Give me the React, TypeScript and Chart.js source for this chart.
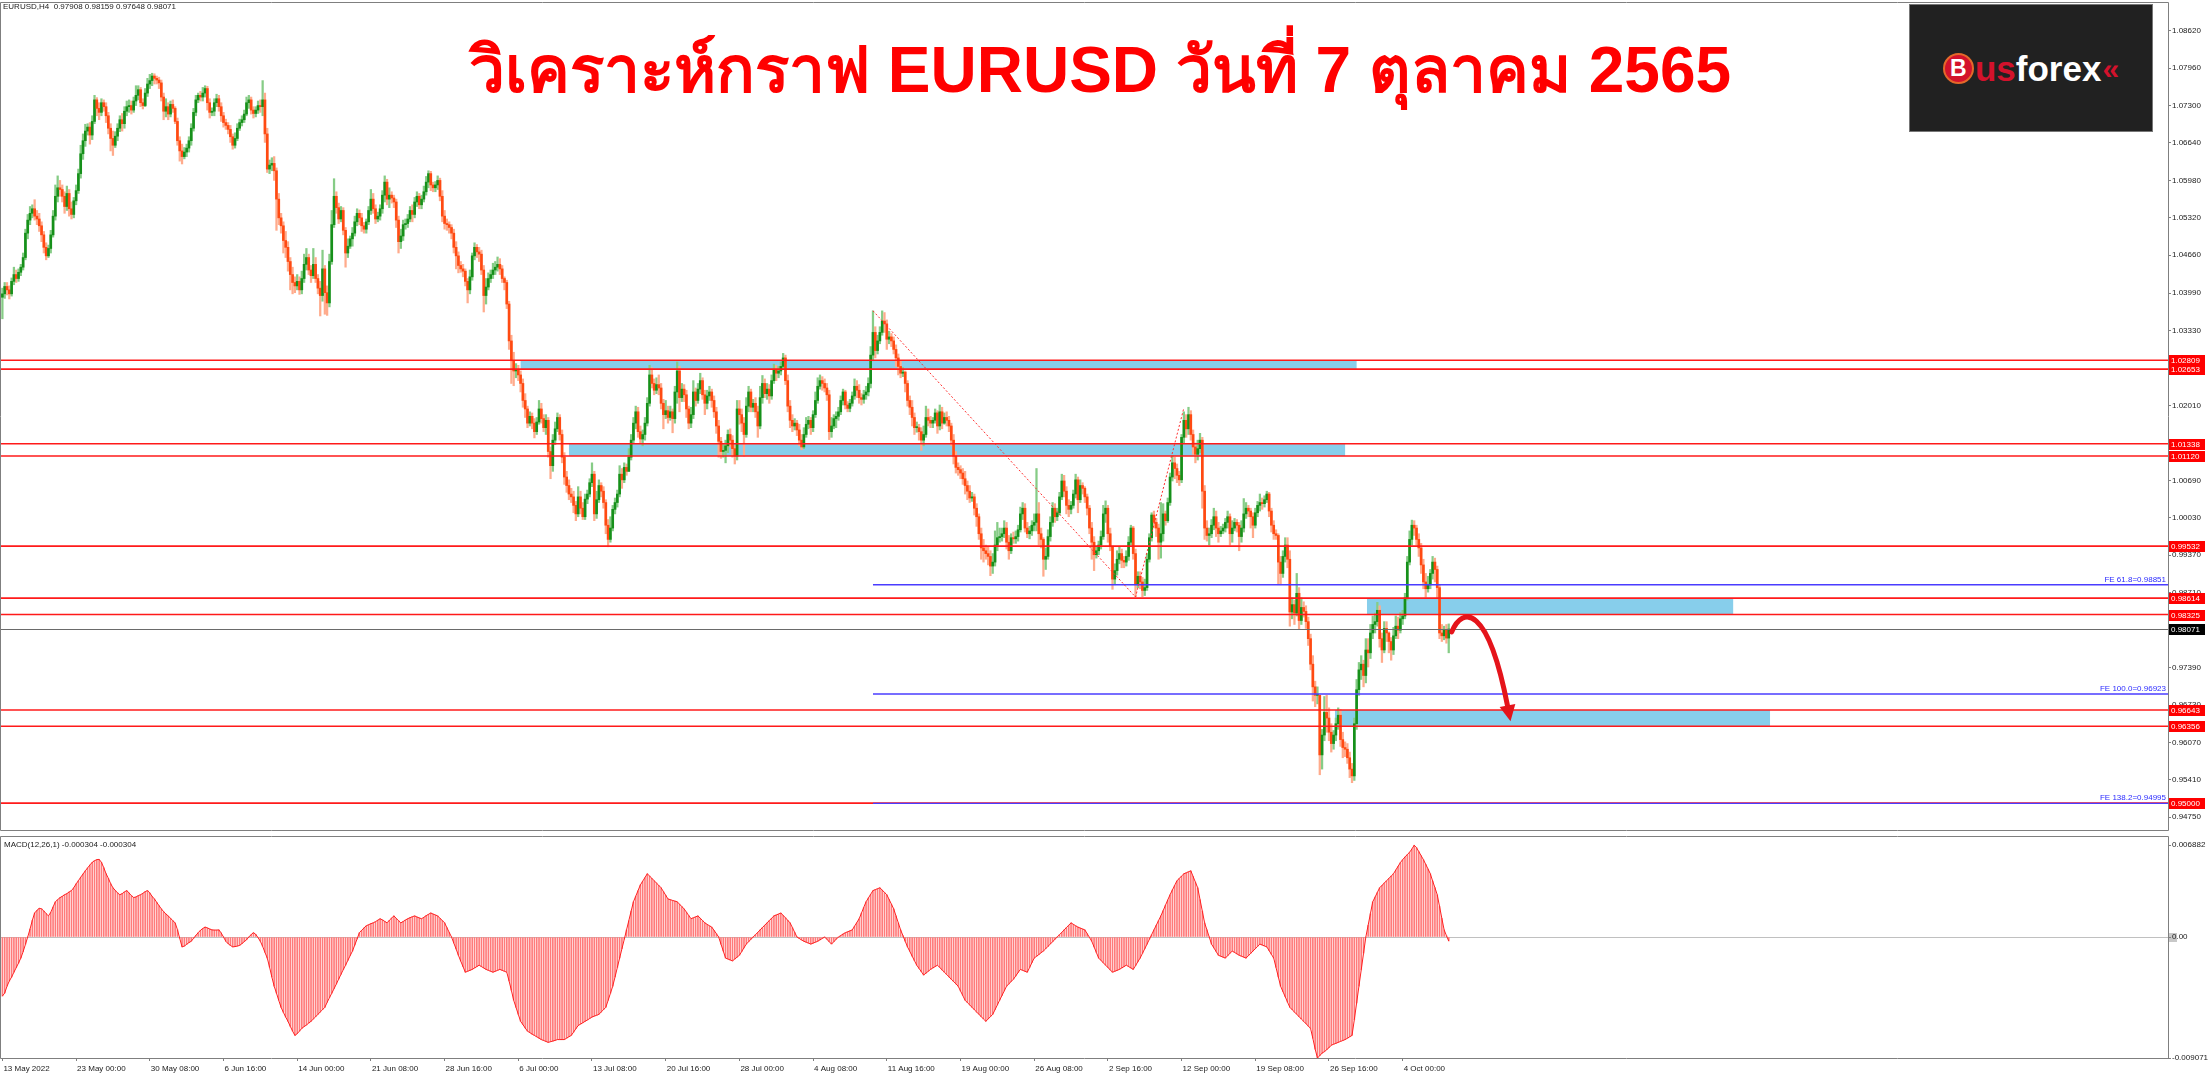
import React, { useEffect, useRef } from "react";
import { Chart, registerables } from "chart.js";

Chart.register(...registerables);

// ---------------- texts ----------------
const SYMBOL_HEADER = "EURUSD,H4  0.97908 0.98159 0.97648 0.98071";
const MACD_HEADER = "MACD(12,26,1) -0.000304 -0.000304";
const TITLE = "วิเคราะห์กราฟ EURUSD วันที่ 7 ตุลาคม 2565";

// ---------------- price data (H4 bars, units of 0.0001) ----------------
const PRICE_UNIT = 1e-4;
const FIRST_OPEN = 10392;
const CLOSES = [
  10398, 10411,
  10405, 10398, 10420, 10432, 10425, 10436,
  10445, 10462, 10505, 10528, 10540, 10548,
  10535, 10530, 10518, 10502, 10480, 10465,
  10478, 10502, 10535, 10570, 10585, 10582,
  10570, 10552, 10575, 10548, 10538, 10562,
  10580, 10610, 10645, 10668, 10685, 10692,
  10678, 10702, 10740, 10725, 10718, 10735,
  10728, 10712, 10690, 10672, 10660, 10676,
  10690, 10705, 10698, 10720, 10728, 10730,
  10722, 10738, 10748, 10758, 10735, 10730,
  10752, 10768, 10774, 10782, 10778, 10775,
  10770, 10745, 10720, 10728, 10715, 10732,
  10725, 10702, 10668, 10650, 10640, 10648,
  10655, 10668, 10690, 10718, 10740, 10748,
  10745, 10752, 10760, 10735, 10718, 10720,
  10735, 10742, 10728, 10712, 10700, 10695,
  10688, 10675, 10660, 10672, 10690, 10700,
  10705, 10715, 10735, 10740, 10722, 10716,
  10722, 10730, 10728, 10740, 10680, 10618,
  10625, 10628, 10615, 10565, 10532, 10518,
  10492, 10480, 10455, 10432, 10418, 10412,
  10420, 10405, 10425, 10450, 10462, 10440,
  10430, 10450, 10425, 10408, 10395, 10442,
  10400, 10382, 10455, 10520, 10570, 10550,
  10530, 10545, 10510, 10470, 10482, 10495,
  10505, 10525, 10540, 10532, 10518, 10512,
  10525, 10545, 10565, 10548, 10530, 10535,
  10548, 10572, 10595, 10565, 10572, 10567,
  10560, 10528, 10490, 10500, 10520, 10522,
  10530, 10545, 10538, 10560, 10570, 10555,
  10565, 10578, 10595, 10610, 10590, 10585,
  10590, 10598, 10570, 10535, 10522, 10520,
  10515, 10505, 10480, 10465, 10448, 10442,
  10438, 10420, 10405, 10428, 10465, 10480,
  10472, 10468, 10440, 10395, 10410, 10425,
  10432, 10440, 10445, 10450, 10442, 10425,
  10418, 10380, 10315, 10280, 10262, 10265,
  10255, 10240, 10210, 10195, 10170, 10182,
  10170, 10155, 10172, 10195, 10178, 10162,
  10175, 10120, 10095, 10140, 10160, 10180,
  10150, 10110, 10075, 10060, 10045, 10040,
  10025, 10010, 10040, 10020, 10005, 10036,
  10045, 10065, 10080, 10010, 10035, 10060,
  10050, 10030, 9990, 9965, 9985, 10018,
  10030, 10045, 10080, 10070, 10092, 10085,
  10110, 10140, 10170, 10190, 10155, 10142,
  10150, 10170, 10205, 10255, 10240, 10228,
  10238, 10232, 10205, 10185, 10192, 10180,
  10190, 10178, 10225, 10262, 10215, 10230,
  10220, 10195, 10170, 10185, 10225, 10210,
  10230, 10245, 10220, 10205, 10218, 10225,
  10210, 10190, 10165, 10138, 10120, 10122,
  10130, 10150, 10140, 10125, 10112, 10195,
  10185, 10170, 10150, 10200, 10225, 10198,
  10205, 10190, 10165, 10215, 10240, 10222,
  10230, 10218, 10245, 10265, 10258, 10262,
  10270, 10285, 10245, 10200, 10175, 10165,
  10170, 10158, 10140, 10128, 10150, 10168,
  10175, 10162, 10185, 10210, 10235, 10245,
  10240, 10232, 10220, 10155, 10165, 10178,
  10182, 10190, 10210, 10225, 10202, 10196,
  10205, 10218, 10235, 10228, 10215, 10212,
  10220, 10225, 10240, 10290, 10330, 10298,
  10315, 10330, 10350, 10345, 10318, 10322,
  10315, 10300, 10285, 10270, 10258, 10260,
  10240, 10210, 10198, 10180, 10162, 10162,
  10155, 10140, 10150, 10180, 10175, 10170,
  10175, 10188, 10165, 10190, 10170, 10180,
  10175, 10165, 10140, 10112, 10092, 10088,
  10082, 10072, 10060, 10050, 10038, 10040,
  10020, 10005, 9975, 9950, 9945, 9940,
  9935, 9918, 9925, 9955, 9968, 9970,
  9975, 9985, 9960, 9945, 9968, 9966,
  9970, 9982, 10010, 10020, 9985, 9975,
  9980, 9990, 9995, 10010, 9975, 9965,
  9930, 9935, 9970, 9995, 10020, 10005,
  10012, 10040, 10068, 10050, 10025, 10018,
  10025, 10045, 10070, 10035, 10060, 10055,
  10040, 10020, 9985, 9960, 9938, 9945,
  9955, 9970, 10010, 10020, 9975, 9953,
  9895, 9910, 9930, 9940, 9928, 9925,
  9935, 9960, 9985, 9940, 9885, 9900,
  9890, 9875, 9880, 9930, 9968, 10008,
  9995, 9985, 9960, 9975, 10010, 9998,
  10030, 10075, 10100, 10090, 10078, 10070,
  10145, 10175, 10160, 10185, 10150, 10128,
  10115, 10125, 10140, 10050, 9985, 9972,
  9975, 9990, 10005, 9985, 9975, 9980,
  9985, 9995, 10005, 9975, 9985, 9995,
  9990, 9970, 9985, 10010, 10020, 10015,
  10005, 9990, 10012, 10025, 10030, 10028,
  10035, 10045, 10015, 9990, 9975, 9972,
  9925, 9905, 9935, 9955, 9930, 9837,
  9850, 9835, 9870, 9822, 9845, 9838,
  9820, 9790, 9745, 9705, 9690, 9690,
  9585, 9620, 9660, 9650, 9625, 9605,
  9620, 9640, 9655, 9612, 9598, 9595,
  9580, 9560, 9548, 9640, 9700, 9735,
  9745, 9725, 9770, 9765, 9800, 9815,
  9820, 9840, 9790, 9770, 9808, 9800,
  9785, 9770, 9795, 9812, 9805, 9825,
  9830, 9862, 9925, 9965, 9990, 9985,
  9965, 9950, 9920, 9890, 9878, 9885,
  9905, 9925, 9912, 9880, 9800, 9795,
  9805, 9791, 9807,
];
const HIGHS = [
  10408, 10418,
  10418, 10412, 10426, 10445, 10440, 10442,
  10450, 10470, 10512, 10538, 10552, 10555,
  10564, 10545, 10540, 10525, 10508, 10488,
  10484, 10510, 10545, 10590, 10606, 10598,
  10590, 10578, 10588, 10582, 10560, 10568,
  10590, 10618, 10660, 10680, 10697, 10698,
  10700, 10712, 10748, 10744, 10735, 10742,
  10740, 10735, 10718, 10698, 10685, 10684,
  10698, 10712, 10716, 10728, 10738, 10740,
  10738, 10745, 10765, 10765, 10762, 10742,
  10760, 10778, 10785, 10787, 10786, 10782,
  10780, 10775, 10752, 10742, 10735, 10738,
  10740, 10728, 10708, 10675, 10662, 10656,
  10662, 10675, 10698, 10725, 10748, 10752,
  10755, 10762, 10765, 10764, 10742, 10726,
  10742, 10750, 10748, 10735, 10718, 10706,
  10700, 10695, 10680, 10682, 10698, 10706,
  10712, 10722, 10745, 10748, 10745, 10728,
  10728, 10738, 10740, 10774, 10752, 10690,
  10634, 10638, 10640, 10620, 10575, 10540,
  10525, 10508, 10490, 10462, 10445, 10428,
  10432, 10428, 10438, 10468, 10478, 10468,
  10448, 10478, 10462, 10432, 10420, 10475,
  10448, 10412, 10468, 10545, 10601, 10578,
  10558, 10552, 10550, 10515, 10495, 10500,
  10515, 10535, 10548, 10546, 10540, 10524,
  10530, 10552, 10582, 10575, 10555, 10542,
  10555, 10580, 10606, 10600, 10585, 10578,
  10572, 10565, 10535, 10512, 10528, 10530,
  10538, 10552, 10555, 10568, 10578, 10575,
  10572, 10588, 10605, 10615, 10614, 10595,
  10596, 10606, 10602, 10580, 10545, 10530,
  10525, 10520, 10512, 10490, 10472, 10455,
  10450, 10442, 10425, 10440, 10470, 10488,
  10485, 10480, 10475, 10448, 10425, 10435,
  10440, 10452, 10455, 10463, 10460, 10448,
  10428, 10422, 10385, 10325, 10295, 10275,
  10272, 10262, 10248, 10222, 10200, 10190,
  10188, 10178, 10180, 10210, 10205, 10185,
  10185, 10180, 10128, 10150, 10172, 10188,
  10185, 10158, 10118, 10085, 10070, 10055,
  10050, 10032, 10058, 10050, 10030, 10045,
  10052, 10072, 10100, 10085, 10050, 10070,
  10065, 10058, 10035, 10000, 10005, 10025,
  10038, 10052, 10095, 10090, 10100, 10098,
  10125, 10150, 10180, 10200, 10198, 10165,
  10158, 10180, 10215, 10272, 10268, 10248,
  10250, 10255, 10240, 10212, 10210, 10200,
  10200, 10195, 10235, 10278, 10270, 10240,
  10238, 10228, 10200, 10198, 10245, 10232,
  10240, 10258, 10250, 10228, 10228, 10235,
  10230, 10218, 10198, 10175, 10145, 10132,
  10140, 10158, 10160, 10148, 10130, 10210,
  10210, 10195, 10180, 10215, 10235, 10230,
  10212, 10215, 10200, 10235, 10254, 10248,
  10240, 10238, 10255, 10274, 10272, 10270,
  10278, 10293, 10290, 10255, 10210, 10185,
  10178, 10175, 10168, 10150, 10162, 10180,
  10182, 10180, 10192, 10225, 10250, 10255,
  10252, 10248, 10240, 10228, 10180, 10185,
  10190, 10198, 10218, 10230, 10228, 10208,
  10212, 10225, 10248, 10245, 10238, 10222,
  10228, 10235, 10250, 10305, 10368, 10340,
  10325, 10340, 10368, 10365, 10352, 10332,
  10328, 10322, 10308, 10292, 10280, 10268,
  10262, 10245, 10218, 10210, 10188, 10172,
  10168, 10162, 10165, 10200, 10195, 10182,
  10180, 10195, 10192, 10202, 10198, 10188,
  10190, 10182, 10170, 10150, 10120, 10100,
  10095, 10090, 10085, 10068, 10060, 10048,
  10045, 10028, 10010, 9985, 9965, 9955,
  9952, 9945, 9940, 9980, 9995, 9985,
  9985, 9998, 9995, 9972, 9975, 9978,
  9980, 9990, 10022, 10030, 10028, 9995,
  9988, 9998, 10010, 10090, 10030, 9985,
  9968, 9950, 9982, 10005, 10030, 10028,
  10020, 10048, 10080, 10078, 10058, 10035,
  10032, 10052, 10080, 10075, 10070, 10065,
  10058, 10045, 10025, 9995, 9970, 9952,
  9962, 9980, 10025, 10033, 10025, 9985,
  9920, 9922, 9945, 9952, 9948, 9935,
  9945, 9970, 9990, 9988, 9948, 9908,
  9908, 9898, 9895, 9940, 9975, 10012,
  10015, 10002, 9992, 10030, 10028, 10015,
  10038, 10082, 10113, 10110, 10098, 10085,
  10150, 10190, 10185, 10198, 10192, 10158,
  10135, 10140, 10152, 10145, 10060, 9998,
  9985, 10000, 10020, 10015, 9995, 9988,
  9992, 10002, 10015, 10010, 9998, 10002,
  10000, 9995, 9998, 10037, 10030, 10025,
  10020, 10012, 10020, 10032, 10045, 10038,
  10042, 10050, 10048, 10020, 9998, 9982,
  9975, 9935, 9945, 9968, 9968, 9945,
  9862, 9858, 9905, 9880, 9862, 9855,
  9848, 9828, 9798, 9760, 9715, 9705,
  9690, 9630, 9688, 9690, 9668, 9640,
  9628, 9650, 9668, 9665, 9625, 9608,
  9605, 9590, 9570, 9650, 9718, 9748,
  9760, 9752, 9790, 9790, 9815, 9830,
  9835, 9854, 9848, 9800, 9820, 9820,
  9802, 9792, 9810, 9830, 9828, 9836,
  9840, 9870, 9935, 9980, 9999, 9998,
  9990, 9975, 9958, 9930, 9905, 9900,
  9912, 9935, 9932, 9918, 9885, 9815,
  9812, 9815, 9816,
];
const LOWS = [
  10354, 10390,
  10396, 10389, 10394, 10414, 10418, 10420,
  10430, 10440, 10458, 10495, 10520, 10532,
  10528, 10520, 10508, 10490, 10470, 10458,
  10462, 10470, 10498, 10528, 10560, 10570,
  10560, 10540, 10545, 10535, 10530, 10532,
  10555, 10575, 10602, 10635, 10658, 10678,
  10662, 10670, 10698, 10712, 10705, 10712,
  10720, 10700, 10680, 10650, 10642, 10656,
  10668, 10684, 10685, 10690, 10712, 10718,
  10715, 10718, 10730, 10740, 10728, 10724,
  10728, 10746, 10760, 10765, 10768, 10768,
  10760, 10738, 10705, 10710, 10705, 10710,
  10718, 10698, 10660, 10632, 10627, 10636,
  10640, 10648, 10660, 10685, 10712, 10735,
  10738, 10738, 10745, 10722, 10708, 10712,
  10712, 10728, 10720, 10702, 10692, 10688,
  10680, 10665, 10653, 10655, 10668, 10686,
  10694, 10700, 10712, 10725, 10715, 10708,
  10710, 10716, 10718, 10712, 10665, 10612,
  10610, 10615, 10598, 10510, 10520, 10505,
  10470, 10462, 10438, 10405, 10398, 10400,
  10405, 10397, 10398, 10418, 10440, 10432,
  10418, 10425, 10418, 10398, 10359, 10385,
  10362, 10360, 10375, 10450, 10515, 10540,
  10522, 10525, 10502, 10445, 10462, 10478,
  10482, 10500, 10518, 10520, 10508, 10505,
  10505, 10520, 10538, 10540, 10522, 10525,
  10528, 10540, 10560, 10555, 10550, 10558,
  10550, 10515, 10470, 10478, 10492, 10512,
  10515, 10525, 10525, 10532, 10552, 10548,
  10548, 10560, 10572, 10585, 10580, 10578,
  10578, 10582, 10562, 10525, 10512, 10510,
  10505, 10495, 10470, 10442, 10435, 10436,
  10428, 10412, 10382, 10398, 10422, 10458,
  10462, 10455, 10432, 10366, 10380, 10405,
  10418, 10425, 10432, 10438, 10432, 10418,
  10405, 10372, 10300, 10240, 10236, 10250,
  10245, 10225, 10198, 10180, 10162, 10165,
  10160, 10144, 10150, 10168, 10170, 10155,
  10150, 10110, 10072, 10085, 10132, 10155,
  10140, 10100, 10062, 10048, 10035, 10030,
  10012, 9998, 10005, 10010, 10000, 10000,
  10028, 10040, 10058, 9998, 10002, 10030,
  10040, 10020, 9975, 9952, 9960, 9980,
  10010, 10022, 10040, 10055, 10065, 10078,
  10085, 10105, 10135, 10160, 10145, 10135,
  10130, 10140, 10165, 10200, 10232, 10220,
  10222, 10220, 10195, 10160, 10178, 10170,
  10175, 10153, 10170, 10205, 10190, 10208,
  10208, 10180, 10160, 10162, 10178, 10200,
  10205, 10222, 10212, 10185, 10195, 10210,
  10198, 10180, 10152, 10110, 10108, 10110,
  10100, 10118, 10128, 10110, 10098, 10105,
  10168, 10155, 10112, 10145, 10190, 10190,
  10190, 10180, 10145, 10160, 10205, 10215,
  10212, 10205, 10212, 10240, 10245, 10250,
  10255, 10265, 10238, 10190, 10162, 10155,
  10158, 10148, 10130, 10123, 10125, 10145,
  10160, 10150, 10155, 10180, 10205, 10230,
  10228, 10225, 10210, 10141, 10145, 10160,
  10162, 10175, 10185, 10202, 10195, 10190,
  10190, 10200, 10212, 10215, 10205, 10202,
  10205, 10212, 10218, 10232, 10280, 10285,
  10292, 10310, 10325, 10330, 10300, 10310,
  10305, 10292, 10270, 10255, 10250, 10252,
  10225, 10200, 10185, 10165, 10150, 10154,
  10140, 10122, 10130, 10145, 10165, 10162,
  10162, 10170, 10152, 10158, 10160, 10168,
  10165, 10155, 10130, 10098, 10082, 10078,
  10072, 10062, 10045, 10035, 10030, 10032,
  10008, 9988, 9965, 9930, 9925, 9930,
  9920, 9901, 9905, 9918, 9945, 9960,
  9962, 9968, 9948, 9930, 9940, 9958,
  9958, 9962, 9978, 10000, 9978, 9968,
  9966, 9972, 9980, 9980, 9955, 9950,
  9900, 9912, 9930, 9962, 9988, 9995,
  9998, 10008, 10035, 10040, 10010, 10005,
  10010, 10020, 10038, 10012, 10030, 10045,
  10030, 10008, 9975, 9930, 9910, 9932,
  9938, 9948, 9965, 9995, 9960, 9945,
  9877, 9885, 9902, 9922, 9915, 9915,
  9918, 9928, 9955, 9930, 9864, 9880,
  9878, 9864, 9866, 9875, 9925, 9962,
  9985, 9970, 9930, 9932, 9962, 9990,
  9995, 10025, 10068, 10072, 10065, 10060,
  10065, 10135, 10145, 10150, 10140, 10115,
  10100, 10105, 10118, 10020, 9965, 9962,
  9955, 9968, 9982, 9970, 9960, 9970,
  9975, 9978, 9985, 9955, 9960, 9980,
  9978, 9945, 9960, 9978, 10002, 10005,
  9985, 9968, 9985, 10005, 10015, 10018,
  10022, 10030, 10005, 9978, 9965, 9965,
  9885, 9885, 9898, 9925, 9915, 9812,
  9825, 9815, 9830, 9807, 9815, 9828,
  9808, 9778, 9735, 9680, 9670, 9675,
  9550, 9560, 9610, 9625, 9610, 9590,
  9595, 9610, 9630, 9600, 9580, 9582,
  9570, 9545, 9536, 9540, 9630, 9690,
  9718, 9705, 9712, 9740, 9755, 9790,
  9800, 9812, 9775, 9748, 9765, 9785,
  9765, 9752, 9762, 9790, 9790, 9800,
  9815, 9825, 9858, 9920, 9955, 9972,
  9955, 9935, 9905, 9878, 9863, 9872,
  9878, 9895, 9890, 9860, 9790, 9785,
  9788, 9782, 9765,
];

// ---------------- MACD(12,26,1) histogram (units of 0.00001) ----------------
const MACD_UNIT = 1e-5;
const MACD_VALUES = [
  -443, -420, -369, -330, -300, -264, -230, -195, -158, -110, -55, 0,
  60, 125, 180, 200, 215, 211, 195, 175, 158, 185, 225, 264,
  280, 295, 305, 317, 325, 338, 348, 370, 398, 422, 448, 472, 496,
  518, 540, 560, 572, 580, 582, 560, 520, 475, 440, 400, 369,
  350, 330, 317, 325, 338, 348, 330, 310, 296, 300, 310, 317,
  328, 340, 348, 330, 305, 285, 260, 235, 211, 190, 172, 158,
  140, 122, 106, 55, -10, -74, -68, -55, -42, -32, -10, 12, 32,
  50, 64, 74, 68, 60, 53, 52, 52, 53, 30, 0, -32,
  -50, -63, -74, -72, -68, -63, -50, -35, -21, 0, 18, 32,
  20, -5, -32, -70, -115, -158, -225, -300, -369, -420, -475, -527,
  -565, -600, -632, -670, -705, -738, -725, -705, -685,
  -672, -660, -645, -632, -615, -598, -580, -562, -545, -527,
  -490, -455, -422, -388, -352, -316, -280, -245, -211, -175, -140, -105,
  -60, -15, 32, 50, 68, 84, 92, 100, 106, 115, 126, 137,
  128, 117, 106, 125, 142, 158, 140, 122, 106, 116, 127, 137,
  145, 152, 158, 150, 143, 137, 148, 160, 170, 180, 172, 165, 158,
  140, 124, 106, 70, 35, 0, -45, -90, -137, -180, -222, -264,
  -257, -250, -243, -232, -222, -211, -222, -232, -243, -250, -257, -264,
  -257, -250, -243, -250, -257, -264, -330, -400, -474, -527, -580, -632,
  -657, -682, -706, -717, -728, -738, -748, -758, -769, -776, -783, -790,
  -785, -780, -775, -769, -769, -769, -769, -758, -748, -738,
  -713, -688, -664, -653, -643, -632, -622, -611, -600, -593, -587, -580,
  -562, -545, -527, -475, -422, -369, -300, -229, -158, -88, -18, 53,
  123, 194, 264, 306, 348, 390, 418, 446, 474, 457, 440, 422,
  404, 387, 369, 341, 313, 285, 280, 274, 269, 264, 246, 228, 211,
  186, 161, 137, 144, 151, 158, 141, 123, 106, 95, 84, 74,
  50, 25, 0, -53, -105, -158, -165, -172, -179, -165, -151, -137,
  -109, -81, -53, -35, -18, 0, 18, 35, 53, 71, 88, 106,
  123, 141, 158, 165, 172, 180, 162, 144, 125, 106, 71, 35, 0,
  -11, -22, -32, -39, -46, -53, -46, -39, -32, -21, -11, 0,
  -18, -35, -53, -35, -18, 0, 11, 22, 32, 39, 46, 53,
  81, 109, 137, 179, 222, 264, 292, 320, 348, 355, 362, 369,
  352, 334, 317, 282, 246, 211, 158, 106, 53, 11, -32, -74,
  -108, -143, -177, -211, -236, -260, -285, -271, -257, -243,
  -232, -222, -211, -229, -246, -264, -281, -299, -316, -334, -351, -369,
  -404, -439, -474, -492, -509, -527, -545, -562, -580, -597, -615, -632,
  -615, -597, -580, -545, -509, -474, -439, -404, -369, -351, -334, -316,
  -292, -267, -243, -250, -257, -264, -229, -193, -158,
  -145, -132, -118, -105, -88, -70, -53, -35, -18, 0,
  18, 35, 53, 71, 88, 106, 95, 84, 74, 67, 60, 53,
  25, -3, -32, -74, -116, -158, -176, -193, -211, -229, -246, -264,
  -257, -250, -243, -232, -222, -211, -222, -232, -243, -215, -186, -158,
  -123, -88, -53, -18, 18, 53, 88, 123, 158, 198, 238, 278, 317,
  352, 387, 422, 439, 457, 474, 481, 489, 496, 454, 411, 369,
  281, 194, 106, 53, 0, -53, -81, -109, -137, -144, -151, -158,
  -140, -123, -105, -116, -126, -137, -144, -151, -158, -140, -123, -105,
  -88, -70, -53, -60, -67, -74, -102, -130, -158, -228, -299, -369,
  -409, -448, -488, -527, -545, -562, -580, -597, -615, -632,
  -650, -667, -685, -760, -840, -907, -890, -870, -860, -845, -830, -811,
  -804, -797, -790, -783, -776, -769, -759, -748, -738, -620, -495, -369,
  -246, -123, 0, 88, 176, 264, 299, 334, 369, 387, 404, 422,
  439, 457, 474, 502, 530, 558, 580, 600, 618, 635, 660, 688, 670,
  640, 610, 580, 545, 510, 474, 420, 370, 317, 230, 140, 53, 10, -30,
];

// ---------------- axes ----------------
const X_TICK_BARS = [0, 32, 64, 96, 128, 160, 192, 224, 256, 288, 320, 352, 384, 416, 448, 480, 512, 544, 576, 608];
const X_TICK_LABELS = [
  "13 May 2022", "23 May 00:00", "30 May 08:00", "6 Jun 16:00", "14 Jun 00:00", "21 Jun 08:00",
  "28 Jun 16:00", "6 Jul 00:00", "13 Jul 08:00", "20 Jul 16:00", "28 Jul 00:00", "4 Aug 08:00",
  "11 Aug 16:00", "19 Aug 00:00", "26 Aug 08:00", "2 Sep 16:00", "12 Sep 00:00", "19 Sep 08:00",
  "26 Sep 16:00", "4 Oct 00:00",
];
const PRICE_TICKS = [
  1.0862, 1.0796, 1.073, 1.0664, 1.0598, 1.0532, 1.0466, 1.0399, 1.0333, 1.0267, 1.0201,
  1.0135, 1.0069, 1.0003, 0.9937, 0.9871, 0.9805, 0.9739, 0.9673, 0.9607, 0.9541, 0.9475,
];
const MACD_TICKS = [0.006882, 0, -0.009071];
const MACD_TICK_LABELS = ["0.006882", "0.00", "-0.009071"];

// ---------------- drawn objects ----------------
const LEVELS = [1.02809, 1.02653, 1.01338, 1.0112, 0.99532, 0.98614, 0.98325, 0.96643, 0.96356, 0.95];
const CURRENT_PRICE = 0.98071;
const ZONE_START = [225, 246, 592.5, 578.6];
const ZONE_END = [588, 583, 751.5, 767.5];
const ZONE_HIGH = [1.02809, 1.01338, 0.98614, 0.96643];
const ZONE_LOW = [1.02653, 1.0112, 0.98325, 0.96356];
const FE_START = 378;
const FE_NAMES = ["FE 61.8", "FE 100.0", "FE 138.2"];
const FE_VALUES = [0.98851, 0.96923, 0.94995];
const FIBO_BARS = [378, 492, 513];
const FIBO_PRICES = [1.03681, 0.98634, 1.0197];
const ARROW_BARS = [629.3, 634, 645, 653.5];
const ARROW_PRICES = [0.9802, 0.9848, 0.985, 0.9672];

// ---------------- layout ----------------
const PAGE_W = 2209;
const PAGE_H = 1080;
const AXIS_W = 41;
const MAIN_H = 834;
const SUB_TOP = 834;
const SUB_H = 246;
const SUB_XAXIS_H = 22;
const X_MIN = -1.042;
const X_MAX = 940.3;
const PRICE_MAX = 1.09126;
const PRICE_MIN = 0.94526;
const MACD_MAX = 0.0075717;
const MACD_MIN = -0.009071;
const FONT = "'Liberation Sans', Arial, sans-serif";
const TEXT_COLOR = "#1a1a1a";
const FRAME_COLOR = "#7f7f7f";

function buildCandles() {
  const n = Math.min(CLOSES.length, HIGHS.length, LOWS.length);
  const wick: any[] = [];
  const body: any[] = [];
  const wickColors: string[] = [];
  const bodyColors: string[] = [];
  for (let i = 0; i < n; i++) {
    const o = (i === 0 ? FIRST_OPEN : CLOSES[i - 1]) * PRICE_UNIT;
    const c = CLOSES[i] * PRICE_UNIT;
    const h = Math.max(HIGHS[i] * PRICE_UNIT, o, c);
    const l = Math.min(LOWS[i] * PRICE_UNIT, o, c);
    const bull = c >= o;
    wick.push({ x: i, y: [l, h] });
    body.push({ x: i, y: [Math.min(o, c), Math.max(o, c)] });
    wickColors.push(bull ? "#86cc86" : "#ffab8c");
    bodyColors.push(bull ? "#16901a" : "#ff4a12");
  }
  return { wick, body, wickColors, bodyColors };
}

const mainOverlay = {
  id: "mainOverlay",
  beforeDatasetsDraw(chart: any) {
    const { ctx, chartArea: a, scales } = chart;
    const xs = scales.x;
    const ys = scales.y;
    ctx.save();
    ctx.beginPath();
    ctx.rect(a.left, a.top, a.right - a.left, a.bottom - a.top);
    ctx.clip();
    ctx.fillStyle = "#87ceeb";
    for (let k = 0; k < ZONE_START.length; k++) {
      const x1 = xs.getPixelForValue(ZONE_START[k]);
      const x2 = xs.getPixelForValue(ZONE_END[k]);
      const y1 = ys.getPixelForValue(ZONE_HIGH[k]);
      const y2 = ys.getPixelForValue(ZONE_LOW[k]);
      ctx.fillRect(x1, y1, x2 - x1, y2 - y1);
    }
    ctx.restore();
  },
  afterDatasetsDraw(chart: any) {
    const { ctx, chartArea: a, scales } = chart;
    const xs = scales.x;
    const ys = scales.y;
    ctx.save();
    ctx.beginPath();
    ctx.rect(a.left, a.top, a.right - a.left, a.bottom - a.top);
    ctx.clip();

    // red horizontal levels
    ctx.strokeStyle = "#ff1a1a";
    ctx.lineWidth = 1.6;
    for (const v of LEVELS) {
      const y = ys.getPixelForValue(v);
      ctx.beginPath();
      ctx.moveTo(a.left, y);
      ctx.lineTo(a.right, y);
      ctx.stroke();
    }
    // current price line
    ctx.strokeStyle = "#6a6a6a";
    ctx.lineWidth = 1;
    {
      const y = Math.round(ys.getPixelForValue(CURRENT_PRICE)) + 0.5;
      ctx.beginPath();
      ctx.moveTo(a.left, y);
      ctx.lineTo(a.right, y);
      ctx.stroke();
    }
    // fibo expansion levels
    const xFe = xs.getPixelForValue(FE_START);
    ctx.font = `8px ${FONT}`;
    ctx.textAlign = "right";
    ctx.textBaseline = "bottom";
    for (let k = 0; k < FE_VALUES.length; k++) {
      const yRaw = ys.getPixelForValue(FE_VALUES[k]);
      ctx.strokeStyle = "#4a3cff";
      ctx.lineWidth = 1.4;
      ctx.beginPath();
      ctx.moveTo(xFe, yRaw);
      ctx.lineTo(a.right, yRaw);
      ctx.stroke();
      ctx.fillStyle = "#2b2bff";
      ctx.fillText(`${FE_NAMES[k]}=${FE_VALUES[k].toFixed(5)}`, a.right - 2, Math.round(yRaw) - 1);
    }
    // dotted fibo trend
    ctx.strokeStyle = "#ff3030";
    ctx.lineWidth = 1;
    ctx.setLineDash([2, 2]);
    ctx.beginPath();
    for (let k = 0; k < FIBO_BARS.length; k++) {
      const x = xs.getPixelForValue(FIBO_BARS[k]);
      const y = ys.getPixelForValue(FIBO_PRICES[k]);
      if (k === 0) ctx.moveTo(x, y);
      else ctx.lineTo(x, y);
    }
    ctx.stroke();
    ctx.setLineDash([]);

    // red curved arrow
    const px = ARROW_BARS.map((b) => xs.getPixelForValue(b));
    const py = ARROW_PRICES.map((p) => ys.getPixelForValue(p));
    ctx.strokeStyle = "#e5141b";
    ctx.fillStyle = "#e5141b";
    ctx.lineWidth = 5;
    ctx.lineCap = "round";
    ctx.beginPath();
    ctx.moveTo(px[0], py[0]);
    ctx.bezierCurveTo(px[1], py[1], px[2], py[2], px[3], py[3]);
    ctx.stroke();
    const ang = Math.atan2(py[3] - py[2], px[3] - px[2]);
    const len = 16;
    const half = 8;
    const tipX = px[3] + Math.cos(ang) * len;
    const tipY = py[3] + Math.sin(ang) * len;
    ctx.beginPath();
    ctx.moveTo(tipX, tipY);
    ctx.lineTo(px[3] + Math.cos(ang + Math.PI / 2) * half, py[3] + Math.sin(ang + Math.PI / 2) * half);
    ctx.lineTo(px[3] + Math.cos(ang - Math.PI / 2) * half, py[3] + Math.sin(ang - Math.PI / 2) * half);
    ctx.closePath();
    ctx.fill();
    ctx.restore();
  },
  afterDraw(chart: any) {
    const { ctx, chartArea: a, scales } = chart;
    const ys = scales.y;
    ctx.save();
    // frame
    ctx.strokeStyle = FRAME_COLOR;
    ctx.lineWidth = 1;
    ctx.beginPath();
    ctx.moveTo(a.left + 0.5, a.top + 0.5);
    ctx.lineTo(a.right + 0.5, a.top + 0.5);
    ctx.lineTo(a.right + 0.5, a.bottom + 0.5);
    ctx.lineTo(a.left + 0.5, a.bottom + 0.5);
    ctx.closePath();
    ctx.stroke();
    // price tags on the axis
    ctx.font = `8px ${FONT}`;
    ctx.textAlign = "left";
    ctx.textBaseline = "middle";
    const tag = (v: number, bg: string) => {
      const y = ys.getPixelForValue(v);
      ctx.fillStyle = bg;
      ctx.fillRect(a.right + 1, Math.round(y) - 5, 36, 11);
      ctx.fillStyle = "#ffffff";
      ctx.fillText(v.toFixed(5), a.right + 3, Math.round(y) + 0.5);
    };
    for (const v of LEVELS) tag(v, "#ff0000");
    tag(CURRENT_PRICE, "#000000");
    ctx.restore();
  },
};

const subOverlay = {
  id: "subOverlay",
  beforeDraw(chart: any) {
    const { ctx, chartArea: a, scales } = chart;
    const y = scales.y.getPixelForValue(0);
    ctx.save();
    ctx.fillStyle = "#c8c8c8";
    ctx.fillRect(a.right + 1, Math.round(y) - 4, 8, 9);
    ctx.restore();
  },
  beforeDatasetsDraw(chart: any) {
    const { ctx, chartArea: a, scales } = chart;
    const y = Math.round(scales.y.getPixelForValue(0)) + 0.5;
    ctx.save();
    ctx.strokeStyle = "#c0c0c0";
    ctx.lineWidth = 1;
    ctx.beginPath();
    ctx.moveTo(a.left, y);
    ctx.lineTo(a.right, y);
    ctx.stroke();
    ctx.restore();
  },
  afterDraw(chart: any) {
    const { ctx, chartArea: a } = chart;
    ctx.save();
    ctx.strokeStyle = FRAME_COLOR;
    ctx.lineWidth = 1;
    ctx.beginPath();
    ctx.moveTo(a.left + 0.5, a.top + 0.5);
    ctx.lineTo(a.right + 0.5, a.top + 0.5);
    ctx.lineTo(a.right + 0.5, a.bottom + 0.5);
    ctx.lineTo(a.left + 0.5, a.bottom + 0.5);
    ctx.closePath();
    ctx.stroke();
    ctx.restore();
  },
};

export default function App() {
  const mainRef = useRef<HTMLCanvasElement | null>(null);
  const subRef = useRef<HTMLCanvasElement | null>(null);

  useEffect(() => {
    const { wick, body, wickColors, bodyColors } = buildCandles();
    const tickFont = { family: FONT, size: 8 };

    const main = new Chart(mainRef.current as HTMLCanvasElement, {
      type: "bar",
      data: {
        datasets: [
          {
            label: "wick",
            data: wick,
            backgroundColor: wickColors,
            borderWidth: 0,
            barThickness: 1.6,
            grouped: false,
            order: 2,
          } as any,
          {
            label: "body",
            data: body,
            backgroundColor: bodyColors,
            borderWidth: 0,
            barThickness: 2,
            minBarLength: 1,
            grouped: false,
            order: 1,
          } as any,
        ],
      },
      options: {
        responsive: false,
        animation: false,
        devicePixelRatio: 1,
        events: [],
        layout: { padding: { left: 0, right: 0, top: 2, bottom: 4 } },
        plugins: { legend: { display: false }, tooltip: { enabled: false } },
        scales: {
          x: {
            type: "linear",
            min: X_MIN,
            max: X_MAX,
            offset: false,
            display: false,
            grid: { offset: false },
          },
          y: {
            type: "linear",
            position: "right",
            min: PRICE_MIN,
            max: PRICE_MAX,
            beginAtZero: false,
            afterBuildTicks: (s: any) => {
              s.ticks = PRICE_TICKS.map((v) => ({ value: v }));
            },
            afterFit: (s: any) => {
              s.width = AXIS_W;
              s.paddingTop = 0;
              s.paddingBottom = 0;
            },
            grid: { drawOnChartArea: false, drawTicks: true, tickLength: 3, color: FRAME_COLOR },
            border: { display: false },
            ticks: {
              autoSkip: false,
              padding: 1,
              color: TEXT_COLOR,
              font: tickFont,
              callback: (v: any) => Number(v).toFixed(5),
            },
          },
        },
      } as any,
      plugins: [mainOverlay],
    });

    const macdPts = MACD_VALUES.map((v, i) => ({ x: i, y: v * MACD_UNIT }));
    const sub = new Chart(subRef.current as HTMLCanvasElement, {
      type: "bar",
      data: {
        datasets: [
          {
            type: "line",
            data: macdPts,
            borderColor: "#ff2020",
            borderWidth: 1,
            pointRadius: 0,
            tension: 0,
            order: 1,
          } as any,
          {
            type: "bar",
            data: macdPts,
            backgroundColor: "#ff7a7a",
            borderWidth: 0,
            barThickness: 1,
            grouped: false,
            order: 2,
          } as any,
        ],
      },
      options: {
        responsive: false,
        animation: false,
        devicePixelRatio: 1,
        events: [],
        layout: { padding: { left: 0, right: 0, top: 2, bottom: 0 } },
        plugins: { legend: { display: false }, tooltip: { enabled: false } },
        scales: {
          x: {
            type: "linear",
            position: "bottom",
            min: X_MIN,
            max: X_MAX,
            offset: false,
            afterBuildTicks: (s: any) => {
              s.ticks = X_TICK_BARS.map((v) => ({ value: v }));
            },
            afterFit: (s: any) => {
              s.height = SUB_XAXIS_H;
              s.paddingLeft = 0;
              s.paddingRight = 0;
            },
            grid: { drawOnChartArea: false, drawTicks: true, tickLength: 3, color: FRAME_COLOR, offset: false },
            border: { display: false },
            ticks: {
              autoSkip: false,
              maxRotation: 0,
              minRotation: 0,
              align: "start",
              labelOffset: 1,
              padding: 3,
              color: TEXT_COLOR,
              font: tickFont,
              callback: (_v: any, i: number) => X_TICK_LABELS[i],
            },
          },
          y: {
            type: "linear",
            position: "right",
            min: MACD_MIN,
            max: MACD_MAX,
            beginAtZero: false,
            afterBuildTicks: (s: any) => {
              s.ticks = MACD_TICKS.map((v) => ({ value: v }));
            },
            afterFit: (s: any) => {
              s.width = AXIS_W;
              s.paddingTop = 0;
              s.paddingBottom = 0;
            },
            grid: { drawOnChartArea: false, drawTicks: true, tickLength: 3, color: FRAME_COLOR },
            border: { display: false },
            ticks: {
              autoSkip: false,
              padding: 1,
              color: TEXT_COLOR,
              font: tickFont,
              callback: (_v: any, i: number) => MACD_TICK_LABELS[i],
            },
          },
        },
      } as any,
      plugins: [subOverlay],
    });

    return () => {
      main.destroy();
      sub.destroy();
    };
  }, []);

  const small: React.CSSProperties = {
    position: "absolute",
    fontFamily: FONT,
    fontSize: 8,
    lineHeight: "10px",
    color: TEXT_COLOR,
    whiteSpace: "pre",
  };

  return (
    <div
      style={{
        position: "fixed",
        left: 0,
        top: 0,
        width: PAGE_W,
        height: PAGE_H,
        background: "#ffffff",
        overflow: "hidden",
      }}
    >
      <canvas
        ref={mainRef}
        width={PAGE_W}
        height={MAIN_H}
        style={{ position: "absolute", left: 0, top: 0, width: PAGE_W, height: MAIN_H }}
      />
      <canvas
        ref={subRef}
        width={PAGE_W}
        height={SUB_H}
        style={{ position: "absolute", left: 0, top: SUB_TOP, width: PAGE_W, height: SUB_H }}
      />
      <div style={{ ...small, left: 3, top: 2 }}>{SYMBOL_HEADER}</div>
      <div style={{ ...small, left: 4, top: 840 }}>{MACD_HEADER}</div>
      <div
        style={{
          position: "absolute",
          left: 469,
          top: 38,
          fontSize: 64,
          lineHeight: "64px",
          fontWeight: 700,
          color: "#ff0000",
          fontFamily: "'Liberation Sans', 'Noto Sans', sans-serif",
          whiteSpace: "nowrap",
        }}
      >
        {TITLE}
      </div>
      <div
        style={{
          position: "absolute",
          left: 1909,
          top: 4,
          width: 244,
          height: 128,
          boxSizing: "border-box",
          background: "#212121",
          border: "1px solid #777777",
          display: "flex",
          alignItems: "center",
          justifyContent: "center",
        }}
      >
        <div
          style={{
            display: "flex",
            alignItems: "center",
            fontFamily: "'Liberation Sans', Arial, sans-serif",
            fontSize: 35,
            lineHeight: "35px",
          }}
        >
          <span
            style={{
              width: 27,
              height: 27,
              borderRadius: "50%",
              background: "#d3122c",
              border: "2px solid #e4682a",
              color: "#ffffff",
              fontWeight: 700,
              fontSize: 23,
              lineHeight: "27px",
              display: "inline-flex",
              alignItems: "center",
              justifyContent: "center",
              marginRight: 1,
            }}
          >
            B
          </span>
          <span style={{ color: "#d3122c", fontWeight: 700 }}>us</span>
          <span style={{ color: "#ffffff", fontWeight: 600 }}>forex</span>
          <span style={{ color: "#d3122c", fontWeight: 700, fontSize: 30, marginLeft: 1 }}>«</span>
        </div>
      </div>
    </div>
  );
}
